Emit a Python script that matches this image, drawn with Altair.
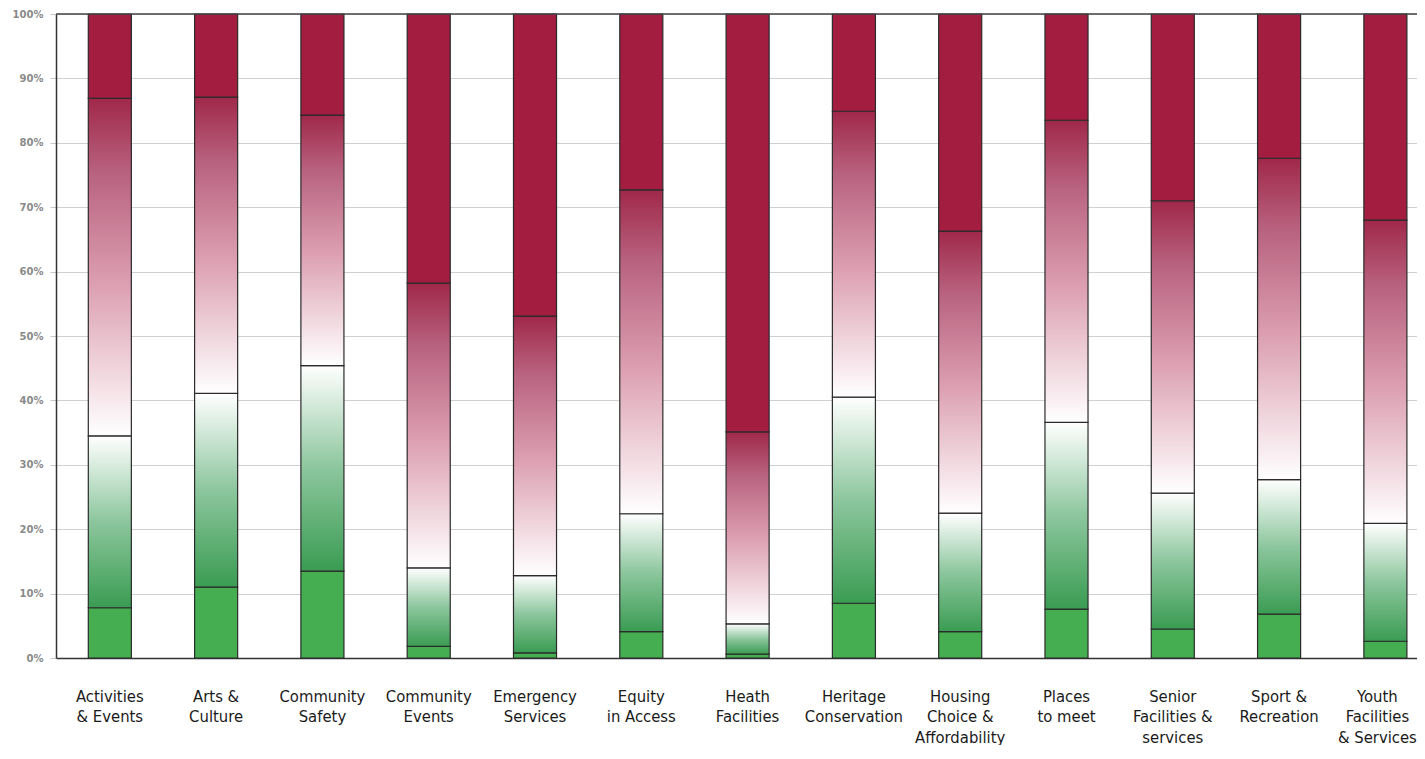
import altair as alt
import pandas as pd

categories = [
    "Activities\n& Events", "Arts &\nCulture", "Community\nSafety", "Community\nEvents",
    "Emergency\nServices", "Equity\nin Access", "Heath\nFacilities", "Heritage\nConservation",
    "Housing\nChoice &\nAffordability", "Places\nto meet", "Senior\nFacilities &\nservices",
    "Sport &\nRecreation", "Youth\nFacilities\n& Services",
]
strong_pos = [7.8, 11.0, 13.5, 1.8, 0.8, 4.1, 0.6, 8.5, 4.1, 7.6, 4.5, 6.8, 2.6]
pos = [26.7, 30.1, 31.9, 12.2, 12.0, 18.3, 4.7, 32.0, 18.4, 29.0, 21.1, 20.9, 18.3]
neg = [52.4, 46.0, 38.9, 44.2, 40.3, 50.3, 29.8, 44.4, 43.8, 46.9, 45.4, 49.9, 47.1]
strong_neg = [13.1, 12.9, 15.7, 41.8, 46.9, 27.3, 64.9, 15.1, 33.7, 16.5, 29.0, 22.4, 32.0]
series_names = ["strong_pos", "pos", "neg", "strong_neg"]
y_ticks = [i / 10 for i in range(11)]
top_line = [1.0]

rows = []
for i, c in enumerate(categories):
    for k, (name, vals) in enumerate(zip(series_names, [strong_pos, pos, neg, strong_neg])):
        rows.append({"category": c, "series": name, "order": k, "value": vals[i]})
df = pd.DataFrame(rows)

fills = {
    "strong_pos": "#45ae50",
    "pos": alt.Gradient(
        gradient="linear", x1=0, x2=0, y1=1, y2=0,
        stops=[
            alt.GradientStop(color="#3a9c52", offset=0),
            alt.GradientStop(color="#8cc69d", offset=0.5),
            alt.GradientStop(color="#ffffff", offset=1),
        ],
    ),
    "neg": alt.Gradient(
        gradient="linear", x1=0, x2=0, y1=1, y2=0,
        stops=[
            alt.GradientStop(color="#ffffff", offset=0),
            alt.GradientStop(color="#dc9fb1", offset=0.45),
            alt.GradientStop(color="#b8627f", offset=0.78),
            alt.GradientStop(color="#a0284a", offset=1),
        ],
    ),
    "strong_neg": "#a21d40",
}

x_enc = alt.X(
    "category:N",
    sort=categories,
    scale=alt.Scale(paddingInner=0.595, paddingOuter=0.1994, align=0.762),
    axis=alt.Axis(
        title=None, labelAngle=0, labelExpr="split(datum.label, '\\n')",
        labelFont="DejaVu Sans Condensed, Liberation Sans Narrow, sans-serif",
        labelFontSize=16.5, labelLineHeight=20.5, labelColor="#1a1a1a",
        labelBaseline="top", labelPadding=30, ticks=False,
        labelOffset={"condition": {"test": "indexof(datum.label, 'Youth') >= 0", "value": -8}, "value": 0},
        domainColor="#333333", domainWidth=1.5, labelLimit=300,
    ),
)
y_enc = alt.Y(
    "y0:Q",
    scale=alt.Scale(domain=[0, 1], nice=False, zero=True),
    axis=alt.Axis(
        title=None, values=y_ticks, format=".0%",
        labelFont="DejaVu Sans", labelFontSize=10, labelFontWeight="bold",
        labelColor="#8a8a8a", labelPadding=7, tickSize=6, tickColor="#c8c8c8",
        gridColor="#d0d0d0", gridWidth=1.2, domainColor="#333333", domainWidth=1.5,
    ),
)

base = alt.Chart(df).transform_stack(
    stack="value", groupby=["category"], as_=["y0", "y1"],
    sort=[alt.SortField("order")], offset="normalize",
)

layers = []
for name in series_names:
    layers.append(
        base.transform_filter(alt.datum.series == name)
        .mark_bar(fill=fills[name], stroke="#2b2b2b", strokeWidth=1.2)
        .encode(x=x_enc, y=y_enc, y2="y1:Q")
    )

top = alt.Chart(pd.DataFrame({"v": top_line})).mark_rule(
    color="#444444", strokeWidth=1.5
).encode(y=alt.Y("v:Q"))

chart = alt.layer(*layers, top).properties(
    width=1361, height=644,
    autosize=alt.AutoSizeParams(type="none"),
    padding={"left": 48, "top": 6, "right": 0, "bottom": 87},
).configure_view(stroke=None).configure(background="#ffffff")

chart.save("out.html", embed_options={"renderer": "svg", "actions": False})
